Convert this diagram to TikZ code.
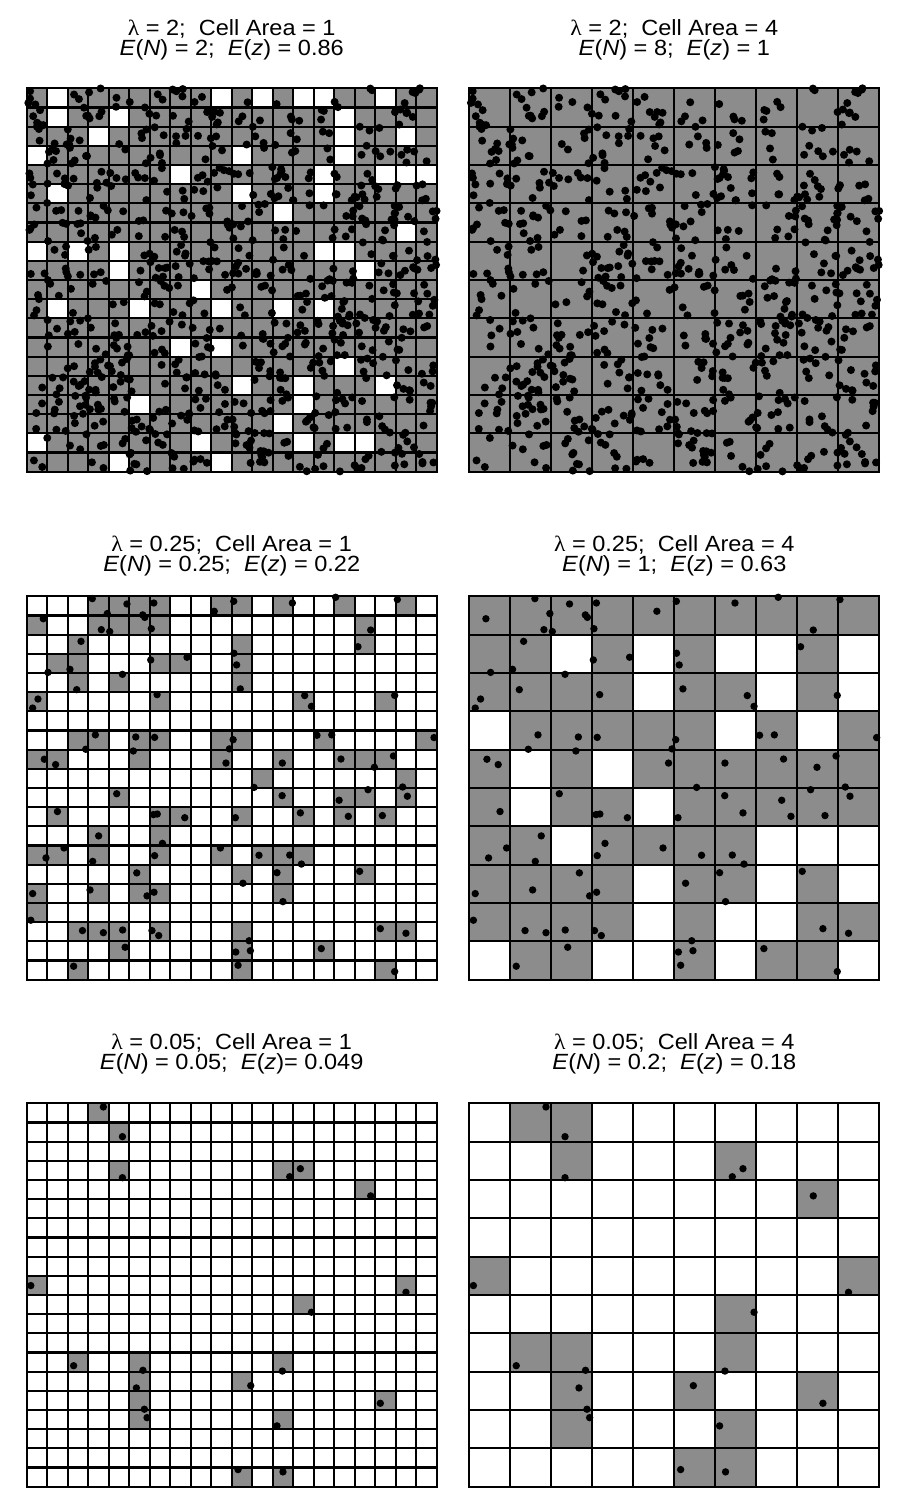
\documentclass[tikz,border=0pt]{standalone}
\usepackage{fontspec}
\setmainfont{Liberation Sans}[FakeStretch=1.07]
\newfontfamily\lamfont{Liberation Serif}[FakeStretch=1.07]
\definecolor{cellgray}{HTML}{8C8C8C}

% offset of the right-hand panel, in small-cell units
\def\rshift{21.59}

% empty cells of the lambda = 2, area = 1 panel (column/row)
\def\emptycells{1/0,9/0,11/0,13/0,14/0,17/0,1/1,4/1,15/1,3/2,15/2,18/2,
  0/3,10/3,15/3,7/4,14/4,17/4,18/4,19/4,1/5,10/5,14/5,12/6,18/7,
  0/8,2/8,4/8,14/8,15/8,4/9,16/9,8/10,1/11,5/11,9/11,12/11,14/11,
  7/13,9/13,15/14,10/15,13/15,17/15,5/16,13/16,12/17,
  0/18,8/18,13/18,15/18,16/18,4/19,9/19}
\foreach \wx/\wy in \emptycells {%
  \pgfmathtruncatemacro\wa{\wx}\pgfmathtruncatemacro\wb{\wy}%
  \expandafter\gdef\csname wc@\wa @\wb\endcsname{1}}

% points, lambda = 0.25 (x/y from the top left corner)
\def\midpts{3.20/0.12,4.89/0.40,6.20/0.35,10.10/0.26,12.96/0.35,15.07/0.05,
  18.08/0.17,0.81/1.17,3.93/0.90,5.66/0.97,5.76/1.10,9.15/0.78,3.64/1.74,
  4.05/1.84,6.08/1.69,16.78/1.76,
  2.65/2.35,6.05/3.32,7.82/3.18,10.11/2.97,10.24/3.58,16.16/2.63,1.04/3.97,
  2.11/3.81,4.67/4.07,
  2.44/4.87,0.55/5.36,0.29/5.83,6.36/5.13,10.42/4.83,13.56/5.18,13.89/5.74,
  17.95/5.17,
  3.35/7.23,5.32/7.34,6.24/7.36,10.07/7.48,9.89/7.96,14.16/7.25,14.88/7.23,
  19.87/7.37,2.88/7.98,5.20/8.07,
  0.86/8.50,1.41/8.78,9.72/8.70,12.47/8.70,15.33/8.49,16.96/8.92,17.89/8.33,
  4.39/10.30,1.50/11.23,6.18/11.39,6.37/11.36,7.71/11.55,10.18/11.55,
  11.09/9.97,12.46/10.40,13.35/11.30,15.24/10.64,15.69/11.48,16.65/10.09,
  17.35/11.44,18.34/9.95,18.57/10.43,
  3.51/12.50,1.82/13.13,0.94/13.65,3.22/13.83,6.62/12.89,6.24/13.53,
  9.45/13.13,11.33/13.51,12.83/13.50,13.40/13.97,
  5.37/14.43,3.09/15.32,0.29/15.51,5.87/15.63,6.21/15.44,10.55/14.97,
  12.21/14.42,12.50/15.93,16.24/14.35,
  0.20/16.90,2.72/17.44,3.74/17.55,4.68/17.41,6.11/17.44,6.44/17.70,
  17.25/17.34,18.50/17.58,10.85/17.97,
  4.80/18.31,2.29/19.30,10.20/18.56,10.91/18.49,10.31/19.25,14.37/18.38,
  17.95/19.58}

% points, lambda = 0.05
\def\lowpts{3.74/0.19,4.67/1.74,4.67/3.88,13.35/3.41,12.83/3.83,16.78/4.83,
  0.20/9.51,18.50/9.86,13.89/10.90,2.29/13.69,5.67/13.93,12.47/13.97,
  5.35/14.85,10.93/14.73,17.25/15.65,5.74/15.96,5.87/16.40,12.21/16.83,
  10.31/19.11,12.50/19.23}

% both grids of one row
\newcommand\cellgrids{%
  \foreach \i in {0,...,20} {
    \draw[cellline] (\i,0) -- (\i,20);
    \draw[cellline] (0,\i) -- (20,\i);
  }
  \foreach \i in {0,2,...,20} {
    \draw[cellline] (\i+\rshift,0) -- (\i+\rshift,20);
    \draw[cellline] (\rshift,\i) -- (\rshift+20,\i);
  }}

% a row of two panels from one list of points
\newcommand\pointrow[1]{%
  \foreach \u/\v in #1 {
    \pgfmathtruncatemacro\cu{\u}\pgfmathtruncatemacro\cv{\v}
    \fill[cellgray] (\cu,\cv) rectangle ++(1,1);
    \pgfmathtruncatemacro\cu{2*floor(\u/2)}\pgfmathtruncatemacro\cv{2*floor(\v/2)}
    \fill[cellgray] (\cu+\rshift,\cv) rectangle ++(2,2);
  }
  \cellgrids
  \foreach \u/\v in #1 {
    \fill (\u,\v) circle[radius=1.85pt];
    \fill (\u+\rshift,\v) circle[radius=1.85pt];
  }}

\begin{document}
\begin{tikzpicture}[x=0.5pt,y=-0.5pt,line cap=rect,
  cellline/.style={line width=1.05pt},
  title/.style={font=\fontsize{11}{9.9}\selectfont,align=center,anchor=base,inner sep=0pt}]
  \path[use as bounding box] (0,0) rectangle (908,1512);
  \fill[white] (0,0) rectangle (908,1512);

  % titles (anchored at the baseline of the second line)
  \node[title] (t11) at (231.7,55) {{\lamfont λ} = 2;\ \ Cell Area = 1\\
    \textit{E}(\textit{N}) = 2;\ \ \textit{E}(\textit{z}) = 0.86};
  \node[title] (t12) at (674.3,55) {{\lamfont λ} = 2;\ \ Cell Area = 4\\
    \textit{E}(\textit{N}) = 8;\ \ \textit{E}(\textit{z}) = 1};
  \node[title] (t21) at (231.7,571.5) {{\lamfont λ} = 0.25;\ \ Cell Area = 1\\
    \textit{E}(\textit{N}) = 0.25;\ \ \textit{E}(\textit{z}) = 0.22};
  \node[title] (t22) at (674.3,571.5) {{\lamfont λ} = 0.25;\ \ Cell Area = 4\\
    \textit{E}(\textit{N}) = 1;\ \ \textit{E}(\textit{z}) = 0.63};
  \node[title] (t31) at (231.7,1069) {{\lamfont λ} = 0.05;\ \ Cell Area = 1\\
    \textit{E}(\textit{N}) = 0.05;\ \ \textit{E}(\textit{z})= 0.049};
  \node[title] (t32) at (674.3,1069) {{\lamfont λ} = 0.05;\ \ Cell Area = 4\\
    \textit{E}(\textit{N}) = 0.2;\ \ \textit{E}(\textit{z}) = 0.18};

  % lambda = 2: almost every cell occupied
  \begin{scope}[shift={(26.7,88.3)},x=10.25pt,y=-9.5833pt]
    \fill[cellgray] (0,0) rectangle (20,20);
    \fill[cellgray] (\rshift,0) rectangle (\rshift+20,20);
    \foreach \wx/\wy in \emptycells {\fill[white] (\wx,\wy) rectangle ++(1,1);}
    \cellgrids
    \pgfmathsetseed{4711}
    \foreach \k in {1,...,930} {
      \pgfmathsetmacro\pu{20*rnd}\pgfmathsetmacro\pv{20*rnd}
      \pgfmathtruncatemacro\cu{\pu}\pgfmathtruncatemacro\cv{\pv}
      \ifcsname wc@\cu @\cv\endcsname\else
        \fill (\pu,\pv) circle[radius=2pt];
        \fill (\pu+\rshift,\pv) circle[radius=2pt];
      \fi
    }
  \end{scope}

  % lambda = 0.25
  \begin{scope}[shift={(26.7,596.3)},x=10.25pt,y=-9.5833pt]
    \pointrow{\midpts}
  \end{scope}

  % lambda = 0.05
  \begin{scope}[shift={(26.7,1103.3)},x=10.25pt,y=-9.5833pt]
    \pointrow{\lowpts}
  \end{scope}
\end{tikzpicture}
\end{document}
